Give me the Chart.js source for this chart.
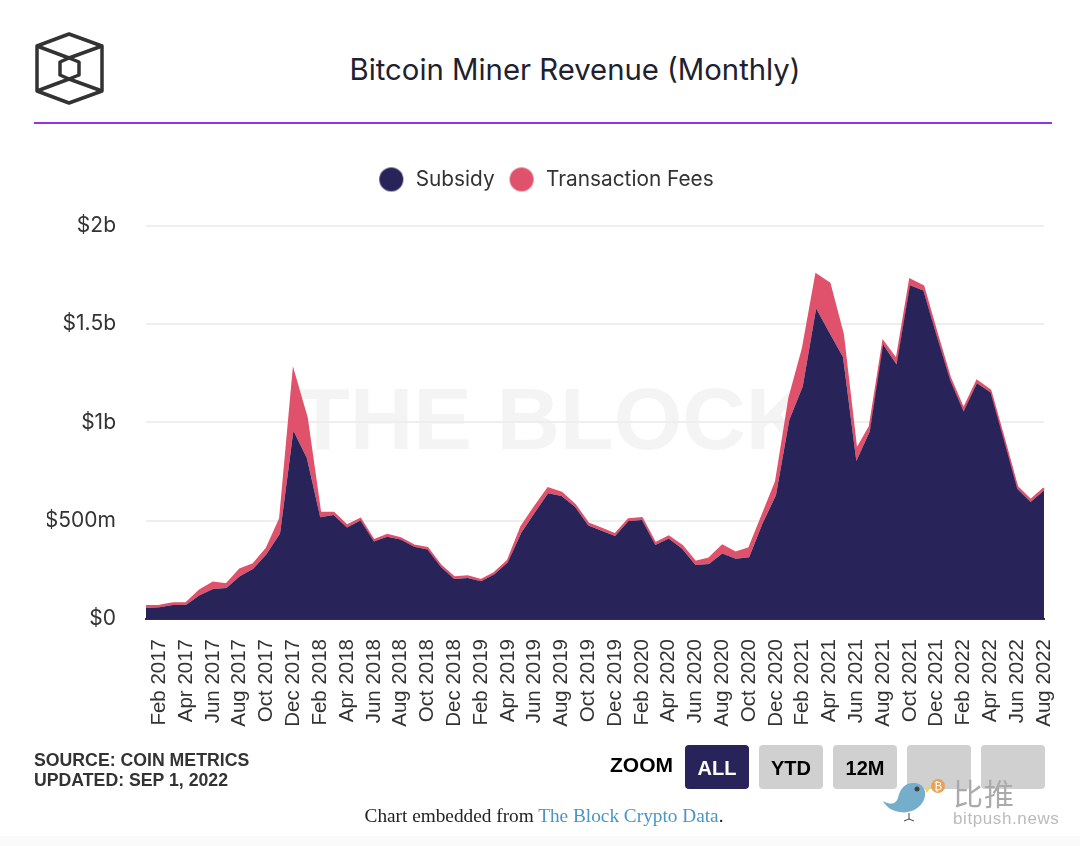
<!DOCTYPE html>
<html>
<head>
<meta charset="utf-8">
<title>Bitcoin Miner Revenue (Monthly)</title>
<script src="https://cdn.jsdelivr.net/npm/chart.js@4"></script>
<style>
  html, body { margin: 0; padding: 0; background: #fff; }
  body { position: relative; width: 1080px; height: 846px; overflow: hidden; }
  .abs { position: absolute; }
  #title { left: 70px; width: 1010px; top: 49px; text-align: center; font: 400 29.3px Inter, sans-serif; color: #20212e; line-height: 42px; }
  #rule { left: 34px; top: 122px; width: 1018px; height: 2px; background: #9333ea; }
  #mark { left: 296px; top: 369px; font: bold 88px "Liberation Sans", sans-serif; color: #f4f4f4; line-height: 100px; white-space: nowrap; }
  #chart { left: 0; top: 0; }
  #source { left: 34px; top: 750px; font: bold 17.7px/20px "Liberation Sans", sans-serif; color: #333; }
  #zoomlabel { left: 610px; top: 753px; font: bold 21px/24px "Liberation Sans", sans-serif; color: #000; }
  .btn { top: 745px; width: 64px; height: 44px; border-radius: 4px; background: #d0d0d0; color: #000; font: bold 20px/46px "Liberation Sans", sans-serif; text-align: center; }
  .btn.on { background: #28245a; color: #fff; }
  #embed { left: 0; width: 1088px; top: 805px; text-align: center; font: 19.3px/22px "Liberation Serif", serif; color: #222; }
  #embed a { color: #4a95c4; text-decoration: none; }
  #band { left: 0; top: 836px; width: 1080px; height: 10px; background: #fafafa; }
  #bp1 { left: 953px; top: 772px; font: 30px/40px "Noto Sans CJK SC", sans-serif; color: #aaa; letter-spacing: 1px; }
  #bp2 { left: 953px; top: 808px; font: 17px/22px "Liberation Sans", sans-serif; color: #bbb; letter-spacing: 0.6px; }
</style>
</head>
<body>
<div id="band" class="abs"></div>
<svg class="abs" style="left:0;top:0" width="120" height="120" fill="none" stroke="#333" stroke-width="3.5" stroke-linejoin="round">
  <path d="M69 34 L102 46 L102 91 L69 103 L37 91 L37 46 Z"/>
  <path d="M37 46 L69 58 L102 46 M37 91 L69 79 L102 91"/>
  <path d="M69 58 L79 62 L79 75 L69 79 L60 75 L60 62 Z"/>
</svg>
<div id="title" class="abs">Bitcoin Miner Revenue (Monthly)</div>
<div id="rule" class="abs"></div>
<div id="mark" class="abs">THE BLOCK</div>
<canvas id="chart" class="abs" width="1080" height="846"></canvas>
<div id="source" class="abs">SOURCE: COIN METRICS<br>UPDATED: SEP 1, 2022</div>
<div id="zoomlabel" class="abs">ZOOM</div>
<div class="abs btn on" style="left:685px">ALL</div>
<div class="abs btn" style="left:759px">YTD</div>
<div class="abs btn" style="left:833px">12M</div>
<div class="abs btn" style="left:907px"></div>
<div class="abs btn" style="left:981px"></div>
<div id="embed" class="abs">Chart embedded from <a href="#">The Block Crypto Data</a>.</div>
<svg class="abs" style="left:880px;top:776px" width="70" height="52">
  <path d="M3 25 C12 30 16 27 18 22 C20 12 26 6 35 7 C43 8 46 14 45 20 C43 32 30 38 20 36 C12 35 6 31 3 25 Z" fill="#74aecb"/>
  <path d="M45 13 L51 10 L47 17 Z" fill="#f3d34a"/>
  <circle cx="37" cy="13" r="2.5" fill="#444"/>
  <path d="M29 37 L29 43 M24 45 L29 43 L34 45" stroke="#444" stroke-width="1" fill="none"/>
  <circle cx="58" cy="10" r="7" fill="#e9a253"/>
  <text x="58" y="14" font-size="11" font-family="Liberation Sans" fill="#fff" text-anchor="middle">₿</text>
</svg>
<div id="bp1" class="abs">比推</div>
<div id="bp2" class="abs">bitpush.news</div>

<script>
const months = [
  'Jan 2017','Feb 2017','Mar 2017','Apr 2017','May 2017','Jun 2017','Jul 2017','Aug 2017','Sep 2017','Oct 2017','Nov 2017','Dec 2017',
  'Jan 2018','Feb 2018','Mar 2018','Apr 2018','May 2018','Jun 2018','Jul 2018','Aug 2018','Sep 2018','Oct 2018','Nov 2018','Dec 2018',
  'Jan 2019','Feb 2019','Mar 2019','Apr 2019','May 2019','Jun 2019','Jul 2019','Aug 2019','Sep 2019','Oct 2019','Nov 2019','Dec 2019',
  'Jan 2020','Feb 2020','Mar 2020','Apr 2020','May 2020','Jun 2020','Jul 2020','Aug 2020','Sep 2020','Oct 2020','Nov 2020','Dec 2020',
  'Jan 2021','Feb 2021','Mar 2021','Apr 2021','May 2021','Jun 2021','Jul 2021','Aug 2021','Sep 2021','Oct 2021','Nov 2021','Dec 2021',
  'Jan 2022','Feb 2022','Mar 2022','Apr 2022','May 2022','Jun 2022','Jul 2022','Aug 2022'
];

// values in $ millions
const subsidy = [
  56,60,71,73,121,153,158,218,255,330,435,957,
  819,517,529,466,501,394,418,405,367,354,265,204,
  209,192,228,289,439,541,639,626,571,476,449,422,
  498,503,377,410,357,275,280,333,306,314,486,629,
  1013,1183,1579,1455,1333,804,954,1396,1294,1698,1671,1438,
  1214,1056,1199,1153,911,663,595,653
];
const totals = [
  66,68,80,82,146,185,177,253,279,359,510,1258,
  1022,541,541,476,510,401,428,411,374,362,272,212,
  218,199,235,298,469,571,665,643,581,486,459,432,
  507,513,386,420,372,291,308,374,338,360,529,699,
  1124,1374,1753,1707,1447,860,979,1411,1319,1727,1693,1455,
  1226,1068,1212,1163,920,673,605,665
];
const fees = totals.map((t, i) => t - subsidy[i]);
const yTicks = { 0: '$0', 500: '$500m', 1000: '$1b', 1500: '$1.5b', 2000: '$2b' };

const navy = '#28245a';
const red = '#e0526b';

// round legend dot, 24px across
function legendDot(color) {
  const c = document.createElement('canvas');
  c.width = 26;
  c.height = 26;
  const g = c.getContext('2d');
  g.fillStyle = color;
  g.beginPath();
  g.arc(13, 13, 12, 0, Math.PI * 2);
  g.fill();
  return c;
}

// leaves room between the legend and the plot
const legendGap = {
  id: 'legendGap',
  beforeInit(chart) {
    const fit = chart.legend.fit;
    chart.legend.fit = function () {
      fit.call(this);
      this.height += 26;
    };
  }
};

new Chart(document.getElementById('chart').getContext('2d'), {
  type: 'line',
  plugins: [legendGap],
  data: {
    labels: months,
    datasets: [
      { label: 'Subsidy', data: subsidy, borderColor: navy, backgroundColor: navy, borderWidth: 0, pointRadius: 0, pointStyle: legendDot(navy), fill: 'origin', tension: 0 },
      { label: 'Transaction Fees', data: fees, borderColor: red, backgroundColor: red, borderWidth: 2, pointRadius: 0, pointStyle: legendDot(red), fill: '-1', tension: 0 }
    ]
  },
  options: {
    responsive: false,
    animation: false,
    layout: { autoPadding: false, padding: { left: 47, right: 36, top: 156, bottom: 0 } },
    plugins: {
      tooltip: { enabled: false },
      legend: {
        position: 'top',
        labels: {
          usePointStyle: true,
          pointStyleWidth: 28,
          boxHeight: 17,
          padding: 13,
          color: '#333',
          font: { family: 'Inter', size: 20.8 }
        }
      }
    },
    scales: {
      x: {
        stacked: true,
        offset: false,
        grid: { display: false, drawTicks: true, tickLength: 10 },
        border: { display: true, color: '#333', width: 2 },
        afterFit: (s) => { s.height = 227; },
        ticks: {
          autoSkip: false,
          maxRotation: 90,
          minRotation: 90,
          padding: 10,
          color: '#333',
          font: { family: 'Liberation Sans', size: 20.5 },
          callback: function (v, i) { return i % 2 === 1 ? months[i] : ''; }
        }
      },
      y: {
        stacked: true,
        min: 0,
        max: 2000,
        afterFit: (s) => { s.width = 99; },
        grid: { color: '#eeeeee', lineWidth: 2, drawTicks: false },
        border: { display: false },
        ticks: {
          stepSize: 500,
          padding: 30,
          color: '#333',
          font: { family: 'Inter', size: 21 },
          callback: (v) => yTicks[v]
        }
      }
    }
  }
});
</script>
</body>
</html>
